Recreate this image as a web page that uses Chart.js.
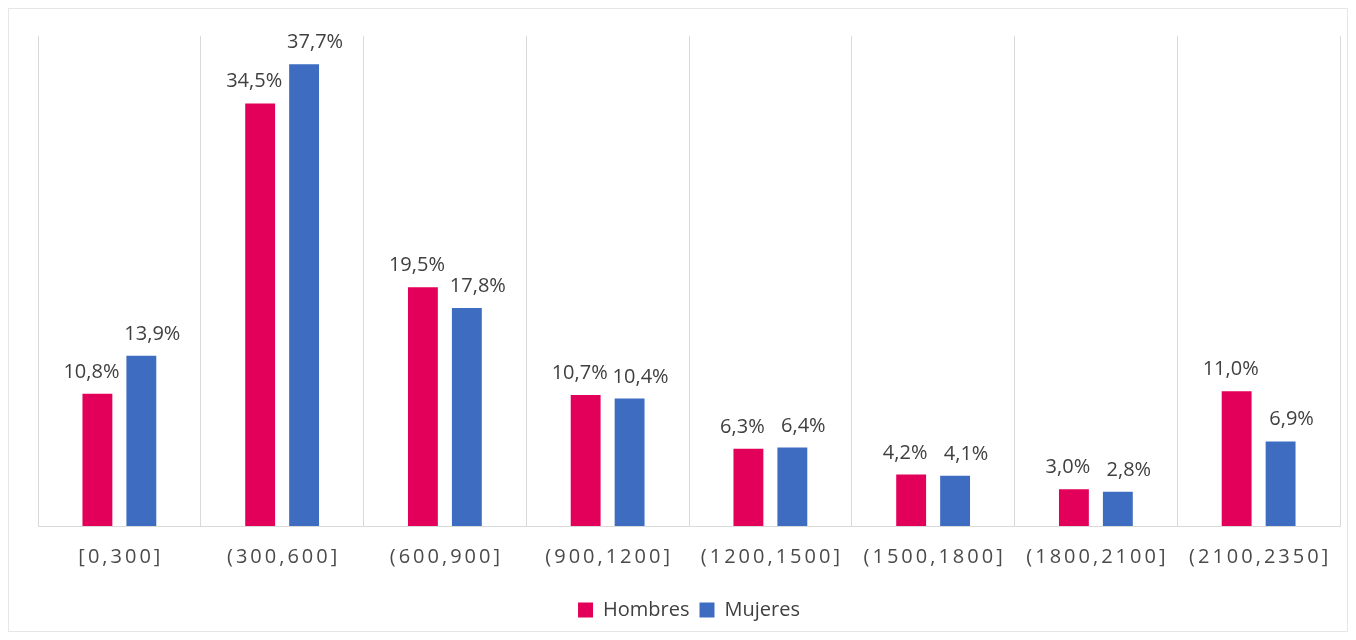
<!DOCTYPE html>
<html>
<head>
<meta charset="utf-8">
<script src="https://cdn.jsdelivr.net/npm/chart.js@4"></script>
<style>
  html, body { margin: 0; padding: 0; background: #fff; }
  #wrap { position: relative; width: 1356px; height: 640px; }
</style>
</head>
<body>
<div id="wrap"><canvas id="chart" width="1356" height="640"></canvas></div>
<script>
// Data
const categories = ['[0,300]', '(300,600]', '(600,900]', '(900,1200]', '(1200,1500]', '(1500,1800]', '(1800,2100]', '(2100,2350]'];
const hombres = [10.8, 34.5, 19.5, 10.7, 6.3, 4.2, 3.0, 11.0];
const mujeres = [13.9, 37.7, 17.8, 10.4, 6.4, 4.1, 2.8, 6.9];
const seriesNames = ['Hombres', 'Mujeres'];

const colors = ['#E3005A', '#3D6CC0'];
const labelOffsets = [-6, 11];

// frame round the whole chart
const framePlugin = {
    id: 'frame',
    beforeDraw(chart) {
        const ctx = chart.ctx;
        ctx.save();
        ctx.strokeStyle = '#e6e6e6';
        ctx.lineWidth = 1;
        ctx.strokeRect(8.5, 8.5, chart.width - 17, chart.height - 17);
        ctx.restore();
    }
};

// value labels above bars, spanish decimal comma
const valueLabels = {
    id: 'valueLabels',
    afterDatasetsDraw(chart) {
        const ctx = chart.ctx;
        ctx.save();
        ctx.font = '20px "Open Sans", sans-serif';
        ctx.fillStyle = '#404040';
        ctx.textAlign = 'center';
        ctx.textBaseline = 'alphabetic';
        chart.data.datasets.forEach((ds, di) => {
            chart.getDatasetMeta(di).data.forEach((bar, i) => {
                const txt = ds.data[i].toFixed(1).replace('.', ',') + '%';
                ctx.fillText(txt, bar.x + labelOffsets[di], bar.y - 16);
            });
        });
        ctx.restore();
    }
};

// category labels with letter spacing
const catLabels = {
    id: 'catLabels',
    afterDraw(chart) {
        const ctx = chart.ctx;
        const x = chart.scales.x;
        ctx.save();
        ctx.font = '20px "Open Sans", sans-serif';
        ctx.letterSpacing = '3px';
        ctx.fillStyle = '#4a4a4a';
        ctx.textAlign = 'center';
        ctx.textBaseline = 'middle';
        categories.forEach((c, i) => {
            ctx.fillText(c, x.getPixelForValue(i) + 1.5, x.top + 31);
        });
        ctx.restore();
    }
};

new Chart(document.getElementById('chart'), {
    type: 'bar',
    data: {
        labels: categories,
        datasets: [
            { label: seriesNames[0], data: hombres, backgroundColor: colors[0] },
            { label: seriesNames[1], data: mujeres, backgroundColor: colors[1] }
        ]
    },
    options: {
        responsive: false,
        animation: false,
        layout: { padding: { left: 38, right: 16, top: 36, bottom: 10 } },
        datasets: {
            bar: { categoryPercentage: 0.54, barPercentage: 0.68 }
        },
        scales: {
            x: {
                grid: { offset: true, color: '#d9d9d9', drawTicks: false },
                border: { color: '#d9d9d9' },
                ticks: { display: false },
                afterFit: (scale) => { scale.height = 64; }
            },
            y: {
                display: false,
                min: 0,
                max: 40
            }
        },
        plugins: {
            legend: {
                position: 'bottom',
                labels: {
                    boxWidth: 15,
                    boxHeight: 15,
                    color: '#404040',
                    font: { size: 20, family: '"Open Sans", sans-serif' },
                    padding: 10
                }
            },
            tooltip: { enabled: false }
        }
    },
    plugins: [framePlugin, valueLabels, catLabels]
});
</script>
</body>
</html>
